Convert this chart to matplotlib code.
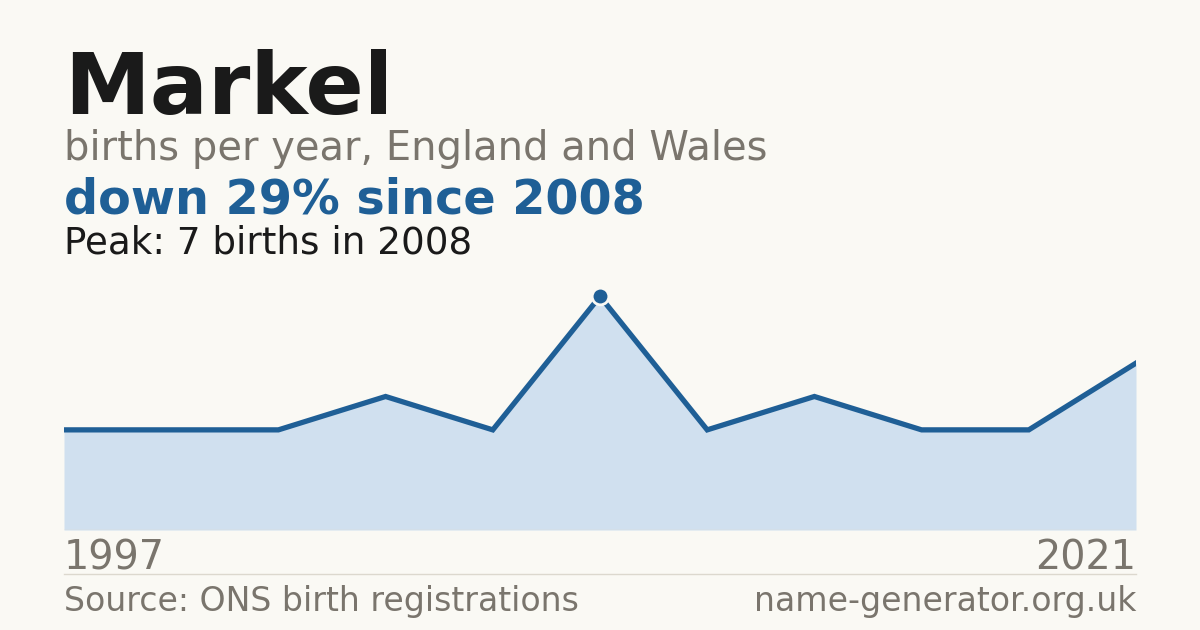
import matplotlib.pyplot as plt

# data
years = [1997, 1999, 2002, 2004, 2006, 2008, 2010, 2013, 2016, 2019, 2021]
births = [3, 3, 3, 4, 3, 7, 3, 4, 3, 3, 5]
peak_idx = births.index(max(births))

bg = '#faf9f4'
blue = '#1f5f96'
fill = '#d0e0ef'
grey = '#7a756d'

W, H = 1200, 630
fig = plt.figure(figsize=(12, 6.3), dpi=100, facecolor=bg)


def fx(px):
    return px / W


def fy(py):
    return 1 - py / H


# chart area
ax = fig.add_axes([fx(64), fy(530), fx(1136) - fx(64), fy(280) - fy(530)])
ax.set_facecolor(bg)
xs = list(range(len(births)))
ax.fill_between(xs, births, 0, color=fill, lw=0)
ax.plot(xs, births, color=blue, lw=3.8, solid_joinstyle='miter')
ax.plot(xs[peak_idx], births[peak_idx], 'o', ms=12, color=blue,
        mec=bg, mew=2, zorder=5)
ax.axhline(0, color='#e2ddd3', lw=1)
ax.set_xlim(0, len(births) - 1)
ax.set_ylim(0, max(births) * 1.07)
ax.axis('off')

# texts
fig.text(fx(64), fy(114), 'Markel', fontsize=62, fontweight='bold',
         color='#1a1a1a', va='baseline')
fig.text(fx(64), fy(160), 'births per year, England and Wales', fontsize=28.8,
         color=grey, va='baseline')
fig.text(fx(64), fy(214), 'down 29% since 2008', fontsize=34.4,
         fontweight='bold', color=blue, va='baseline')
fig.text(fx(64), fy(254), f'Peak: {max(births)} births in {years[peak_idx]}',
         fontsize=26.8, color='#1a1a1a', va='baseline')

fig.text(fx(64), fy(570), str(years[0]), fontsize=28.6, color=grey, va='baseline')
fig.text(fx(1136), fy(570), str(years[-1]), fontsize=28.6, color=grey,
         va='baseline', ha='right')

fig.add_artist(plt.Line2D([fx(64), fx(1136)], [fy(574), fy(574)],
                          color='#dcd8ce', lw=1))

fig.text(fx(64), fy(611), 'Source: ONS birth registrations', fontsize=23.9,
         color=grey, va='baseline')
fig.text(fx(1136), fy(611), 'name-generator.org.uk', fontsize=23.9,
         color=grey, va='baseline', ha='right')

fig.savefig('out.png', dpi=100, facecolor=bg)
